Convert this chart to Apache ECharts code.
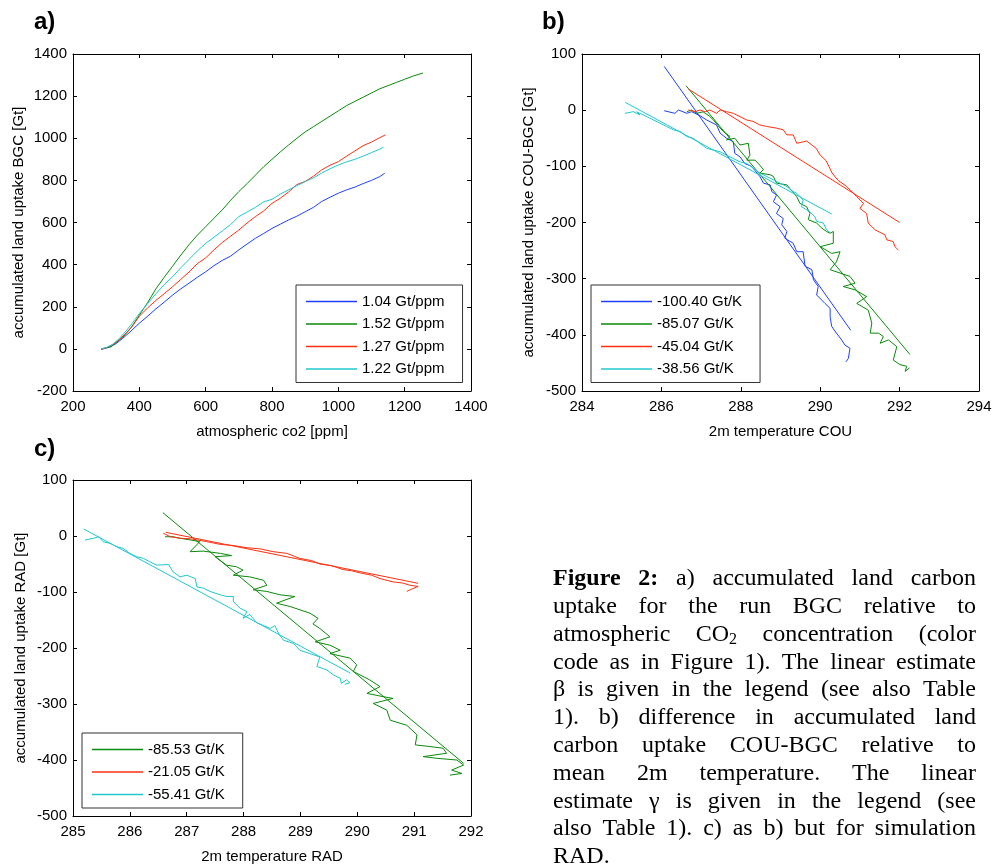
<!DOCTYPE html>
<html>
<head>
<meta charset="utf-8">
<title>Figure 2</title>
<script src="https://cdn.jsdelivr.net/npm/echarts@6/dist/echarts.min.js"></script>
<style>
  html, body { margin: 0; padding: 0; background: #fff; }
  #chart { width: 992px; height: 866px; }
</style>
</head>
<body>
<div id="chart"></div>
<script>
// ---- panel a: accumulated land uptake BGC vs atmospheric co2 ----
var aNames = ['1.04 Gt/ppm', '1.52 Gt/ppm', '1.27 Gt/ppm', '1.22 Gt/ppm'];
var aBlue = [[285,-3],[295,2],[310,8],[330,25],[350,50],[375,85],[400,122],[425,155],[450,190],[475,222],[500,255],[525,285],[550,312],[575,340],[600,366],[625,395],[650,420],[675,440],[700,470],[725,498],[750,525],[775,548],[800,572],[825,592],[850,612],[875,630],[900,651],[925,672],[950,700],[975,720],[1000,739],[1025,755],[1050,768],[1075,785],[1100,800],[1125,818],[1140,834]];
var aGreen = [[285,0],[300,5],[315,10],[330,30],[350,55],[375,100],[400,160],[425,220],[450,285],[475,340],[500,392],[525,445],[550,495],[575,540],[600,580],[625,620],[650,660],[675,705],[700,747],[725,785],[750,825],[775,865],[800,900],[825,935],[850,968],[875,1000],[900,1030],[925,1055],[950,1080],[975,1105],[1000,1130],[1025,1155],[1050,1175],[1075,1195],[1100,1215],[1125,1235],[1150,1250],[1175,1265],[1200,1280],[1225,1295],[1255,1310]];
var aRed = [[285,-2],[300,5],[320,20],[340,45],[360,75],[380,110],[400,155],[425,195],[450,230],[475,262],[500,295],[525,330],[550,365],[575,405],[600,432],[625,470],[650,505],[675,535],[700,564],[725,598],[750,628],[775,655],[800,691],[825,715],[850,745],[875,780],[900,795],[925,820],[950,850],[975,872],[1000,889],[1025,915],[1050,940],[1075,965],[1100,982],[1125,1003],[1142,1016]];
var aCyan = [[285,0],[300,6],[320,22],[340,50],[360,85],[380,125],[400,168],[425,215],[450,262],[475,305],[500,342],[525,385],[550,425],[575,465],[600,501],[625,530],[650,560],[675,590],[700,628],[725,650],[750,672],[775,698],[800,710],[825,735],[850,755],[875,775],[900,794],[925,812],[950,835],[975,855],[1000,873],[1025,888],[1050,900],[1075,915],[1100,932],[1125,948],[1136,958]];

// ---- panel b: COU-BGC vs 2m temperature COU ----
var bNames = ['-100.40 Gt/K', '-85.07 Gt/K', '-45.04 Gt/K', '-38.56 Gt/K'];
var bBlue = [[286.07,-1],[286.34,-5.6],[286.43,0.3],[286.64,-5.6],[286.76,-2.7],[286.97,-9.8],[287.14,-17.5],[287.39,-26.4],[287.48,-41],[287.64,-50],[287.81,-56],[287.85,-77],[287.98,-83],[288.1,-95],[288.27,-100],[288.48,-118],[288.57,-130],[288.74,-133],[288.78,-145],[288.9,-151],[288.82,-163],[288.99,-172],[288.9,-184],[289.07,-193],[289.03,-204],[289.16,-216],[289.11,-228],[289.32,-237],[289.41,-252],[289.57,-252],[289.62,-278],[289.79,-284],[289.83,-302],[289.95,-314],[289.91,-329],[290.12,-344],[290.25,-353],[290.25,-368],[290.29,-385],[290.41,-397],[290.54,-409],[290.62,-418],[290.75,-424],[290.71,-442],[290.65,-448]];
var bBlueFit = [[286.07,78],[290.77,-392]];
var bGreen = [[286.64,-2.7],[286.76,0.3],[286.89,-5.6],[287.05,-3],[287.2,-10],[287.31,-17.5],[287.48,-32],[287.56,-38],[287.73,-47],[287.64,-53],[287.85,-50],[287.98,-62],[288.19,-59],[288.23,-80],[288.15,-89],[288.36,-89],[288.48,-98],[288.57,-106],[288.48,-112],[288.74,-115],[288.82,-118],[288.9,-130],[289.16,-133],[289.24,-140],[289.41,-154],[289.49,-166],[289.66,-172],[289.74,-184],[289.7,-195],[289.91,-201],[290.04,-210],[290.16,-216],[290.25,-219],[290.33,-216],[290.33,-237],[290.0,-243],[290.29,-255],[290.5,-252],[290.41,-270],[290.25,-284],[290.5,-290],[290.75,-296],[290.88,-308],[290.58,-314],[290.88,-320],[291.17,-332],[290.92,-344],[291.21,-356],[291.3,-379],[291.26,-397],[291.47,-397],[291.59,-403],[291.51,-415],[291.72,-409],[291.93,-421],[291.84,-445],[292.01,-453],[292.18,-456],[292.14,-465],[292.25,-459]];
var bGreenFit = [[286.62,43.5],[292.26,-435]];
var bRed = [[286.68,0.3],[286.85,-2.7],[286.97,0.3],[287.1,-3],[287.22,0.3],[287.39,-5.6],[287.48,0.3],[287.64,-2.7],[287.81,-5.6],[287.98,-11.5],[288.15,-17.5],[288.31,-20],[288.48,-26.4],[288.65,-29],[288.9,-32],[289.07,-35],[289.16,-44],[289.32,-44],[289.41,-59],[289.66,-55],[289.9,-68],[290.0,-80],[290.15,-90],[290.3,-112],[290.45,-125],[290.67,-136],[290.92,-154],[291.09,-166],[291.0,-175],[291.17,-184],[291.21,-201],[291.38,-213],[291.63,-222],[291.68,-231],[291.84,-234],[291.88,-243],[291.97,-249]];
var bRedFit = [[286.68,37.6],[292.0,-200]];
var bCyan = [[285.08,-5.6],[285.29,-2.7],[285.46,-8.5],[285.38,-3],[285.63,-11.5],[285.8,-17.5],[285.96,-23],[286.13,-29],[286.3,-35],[286.47,-38],[286.64,-47],[286.8,-50],[286.97,-59],[287.14,-68],[287.31,-71],[287.48,-74],[287.64,-80],[287.81,-86],[287.98,-92],[288.15,-95],[288.31,-103],[288.48,-112],[288.65,-118],[288.82,-124],[288.99,-130],[289.16,-136],[289.32,-145],[289.41,-148],[289.57,-160],[289.53,-172],[289.74,-181],[289.87,-190],[289.91,-198],[290.08,-201],[290.16,-213],[290.25,-218]];
var bCyanFit = [[285.09,13.8],[290.29,-185]];

// ---- panel c: RAD vs 2m temperature RAD ----
var cNames = ['-85.53 Gt/K', '-21.05 Gt/K', '-55.41 Gt/K'];
var cGreen = [[286.62,-1.3],[286.76,-1.3],[286.88,-4],[287.06,-7],[287.23,-10],[287.06,-28],[287.29,-27],[287.59,-31],[287.79,-35],[287.5,-37],[287.7,-52],[287.88,-55],[287.99,-61],[287.82,-70],[288.11,-73],[288.35,-79],[288.41,-88],[288.17,-96],[288.41,-99],[288.64,-105],[288.9,-108],[288.58,-120],[288.82,-126],[289.17,-138],[289.31,-147],[289.22,-157],[289.34,-165],[289.52,-180],[289.26,-189],[289.52,-195],[289.7,-204],[289.52,-210],[289.87,-218],[289.99,-230],[289.93,-242],[290.22,-257],[290.4,-269],[290.17,-281],[290.46,-287],[290.63,-290],[290.28,-299],[290.52,-311],[290.58,-329],[290.87,-338],[291.05,-355],[291.02,-373],[291.28,-376],[291.51,-379],[291.57,-388],[291.16,-394],[291.4,-397],[291.75,-400],[291.87,-409],[291.66,-418],[291.84,-424],[291.63,-427]];
var cGreenFit = [[286.58,41.7],[291.87,-406]];
var cRed = [[286.59,4.8],[286.71,-1.3],[286.88,-4],[287.06,-5],[287.18,-7],[287.35,-10],[287.59,-15],[287.82,-17],[288.06,-21],[288.29,-23],[288.52,-28],[288.76,-31],[288.99,-40],[289.2,-44],[289.34,-50],[289.55,-53],[289.75,-60],[289.9,-62],[290.05,-66],[290.25,-70],[290.4,-76],[290.63,-82],[290.8,-84],[290.93,-88],[291.07,-90],[291.04,-93],[290.93,-96],[290.87,-99]];
var cRedFit = [[286.63,6.6],[291.07,-84.5]];
var cCyan = [[285.21,-7.2],[285.36,-4.1],[285.45,-1.3],[285.53,-10.2],[285.65,-13.1],[285.77,-19.1],[285.88,-22],[286.0,-31],[286.12,-37],[286.24,-40],[286.35,-46],[286.47,-52],[286.68,-51],[286.76,-64],[286.88,-73],[287.0,-70],[287.15,-76],[287.18,-91],[287.29,-93],[287.41,-99],[287.59,-105],[287.7,-108],[287.82,-108],[287.82,-117],[287.94,-129],[288.06,-135],[287.99,-147],[288.11,-140],[288.23,-155],[288.35,-160],[288.47,-165],[288.55,-160],[288.62,-175],[288.7,-186],[288.88,-192],[288.99,-204],[289.17,-210],[289.34,-216],[289.29,-233],[289.46,-239],[289.58,-248],[289.7,-254],[289.72,-263],[289.81,-257],[289.87,-262],[289.78,-265]];
var cCyanFit = [[285.19,12.5],[289.88,-245]];

var captionLines = [
  'Figure 2: a) accumulated land carbon',
  'uptake for the run BGC relative to',
  'atmospheric CO2 concentration (color',
  'code as in Figure 1). The linear estimate',
  'β is given in the legend (see also Table',
  '1). b) difference in accumulated land',
  'carbon uptake COU-BGC relative to',
  'mean 2m temperature. The linear',
  'estimate γ is given in the legend (see',
  'also Table 1). c) as b) but for simulation',
  'RAD.'
];

var BLUE = '#2040ff', GREEN = '#0a8a0a', RED = '#ff3010', CYAN = '#20c8cc';
var sansFont = '"Liberation Sans", Arial, sans-serif';
var serifFont = '"Liberation Serif", "Times New Roman", serif';

function plain(v) { return String(v); }

function xAxes(grid, min, max, interval, name) {
  var base = {
    type: 'value', gridIndex: grid, min: min, max: max, interval: interval,
    axisLine: { show: true, onZero: false, lineStyle: { color: '#000', width: 1 } },
    axisTick: { show: true, inside: true, length: 4, lineStyle: { color: '#000' } },
    splitLine: { show: false }
  };
  var bottom = Object.assign({}, base, {
    position: 'bottom', name: name, nameLocation: 'middle', nameGap: 33,
    nameTextStyle: { fontSize: 15, color: '#000', fontFamily: sansFont },
    axisLabel: { fontSize: 15, color: '#000', margin: 8, fontFamily: sansFont, formatter: plain }
  });
  var top = Object.assign({}, base, { position: 'top', axisLabel: { show: false } });
  return [bottom, top];
}

function yAxes(grid, min, max, interval, name, gap) {
  var base = {
    type: 'value', gridIndex: grid, min: min, max: max, interval: interval,
    axisLine: { show: true, onZero: false, lineStyle: { color: '#000', width: 1 } },
    axisTick: { show: true, inside: true, length: 4, lineStyle: { color: '#000' } },
    splitLine: { show: false }
  };
  var left = Object.assign({}, base, {
    position: 'left', name: name, nameLocation: 'middle', nameGap: gap,
    nameTextStyle: { fontSize: 15, color: '#000', fontFamily: sansFont },
    axisLabel: { fontSize: 15, color: '#000', margin: 6, fontFamily: sansFont, formatter: plain }
  });
  var right = Object.assign({}, base, { position: 'right', axisLabel: { show: false } });
  return [left, right];
}

function line(name, data, color, ax) {
  return {
    type: 'line', name: name, data: data, xAxisIndex: ax, yAxisIndex: ax,
    symbol: 'none', showSymbol: false, silent: true, animation: false,
    lineStyle: { width: 1, color: color }, itemStyle: { color: color },
    emphasis: { disabled: true }
  };
}

function legend(names, left, top) {
  return {
    data: names, orient: 'vertical', left: left, top: top,
    icon: 'rect', itemWidth: 51, itemHeight: 1.5, itemGap: 7.5,
    padding: [9, 18, 6, 10], borderColor: '#333', borderWidth: 1,
    backgroundColor: '#fff', selectedMode: false,
    textStyle: { fontSize: 15, color: '#000', fontFamily: sansFont }
  };
}

// caption text, justified word by word
var measure = document.createElement('canvas').getContext('2d');
var capSize = 24, capLeft = 553, capRight = 976, capTop = 587, capStep = 27.8;
var captionGraphics = [];
captionLines.forEach(function (txt, i) {
  var words = txt.split(' ');
  var items = words.map(function (w, k) {
    var bold = (i === 0 && k < 2);
    var parts = (w === 'CO2')
      ? [{ t: 'CO', size: capSize, dy: 0 }, { t: '2', size: 16, dy: 5 }]
      : [{ t: w, size: capSize, dy: 0 }];
    var wid = 0;
    parts.forEach(function (p) {
      p.font = (bold ? 'bold ' : '') + p.size + 'px ' + serifFont;
      measure.font = p.font;
      p.x = wid;
      wid += measure.measureText(p.t).width;
    });
    return { parts: parts, w: wid };
  });
  var total = items.reduce(function (s, it) { return s + it.w; }, 0);
  measure.font = capSize + 'px ' + serifFont;
  var gap = (i === captionLines.length - 1 || items.length < 2)
    ? measure.measureText(' ').width
    : (capRight - capLeft - total) / (items.length - 1);
  var x = capLeft;
  var mid = capTop + i * capStep - 8;
  items.forEach(function (it) {
    it.parts.forEach(function (p) {
      captionGraphics.push({
        type: 'text', x: x + p.x, y: mid + p.dy, silent: true,
        style: { text: p.t, font: p.font, fill: '#000', verticalAlign: 'middle' }
      });
    });
    x += it.w + gap;
  });
});

var panelLabels = [['a)', 34, 22], ['b)', 542, 22], ['c)', 34, 449]].map(function (l) {
  return {
    type: 'text', x: l[1], y: l[2], silent: true,
    style: { text: l[0], font: 'bold 24px ' + sansFont, fill: '#000', verticalAlign: 'middle' }
  };
});

var chart = echarts.init(document.getElementById('chart'), null, { renderer: 'canvas' });
var option = {
  animation: false,
  backgroundColor: '#fff',
  grid: [
    { left: 73, top: 54, width: 398, height: 337, outerBoundsMode: 'none' },
    { left: 582, top: 54, width: 397, height: 337, outerBoundsMode: 'none' },
    { left: 73, top: 480, width: 398, height: 336, outerBoundsMode: 'none' }
  ],
  xAxis: [].concat(
    xAxes(0, 200, 1400, 200, 'atmospheric co2 [ppm]'),
    xAxes(1, 284, 294, 2, '2m temperature COU'),
    xAxes(2, 285, 292, 1, '2m temperature RAD')
  ),
  yAxis: [].concat(
    yAxes(0, -200, 1400, 200, 'accumulated land uptake BGC [Gt]', 47),
    yAxes(1, -500, 100, 100, 'accumulated land uptake COU-BGC [Gt]', 46),
    yAxes(2, -500, 100, 100, 'accumulated land uptake RAD [Gt]', 45)
  ),
  legend: [
    legend(aNames, 296, 285),
    legend(bNames, 591, 285),
    legend(cNames, 82, 733)
  ],
  series: [
    line(aNames[0], aBlue, BLUE, 0),
    line(aNames[1], aGreen, GREEN, 0),
    line(aNames[2], aRed, RED, 0),
    line(aNames[3], aCyan, CYAN, 0),

    line(bNames[0], bBlue, BLUE, 2),
    line(bNames[0], bBlueFit, BLUE, 2),
    line(bNames[1], bGreen, GREEN, 2),
    line(bNames[1], bGreenFit, GREEN, 2),
    line(bNames[2], bRed, RED, 2),
    line(bNames[2], bRedFit, RED, 2),
    line(bNames[3], bCyan, CYAN, 2),
    line(bNames[3], bCyanFit, CYAN, 2),

    line(cNames[0], cGreen, GREEN, 4),
    line(cNames[0], cGreenFit, GREEN, 4),
    line(cNames[1], cRed, RED, 4),
    line(cNames[1], cRedFit, RED, 4),
    line(cNames[2], cCyan, CYAN, 4),
    line(cNames[2], cCyanFit, CYAN, 4)
  ],
  graphic: panelLabels.concat(captionGraphics)
};
chart.setOption(option);
</script>
</body>
</html>
